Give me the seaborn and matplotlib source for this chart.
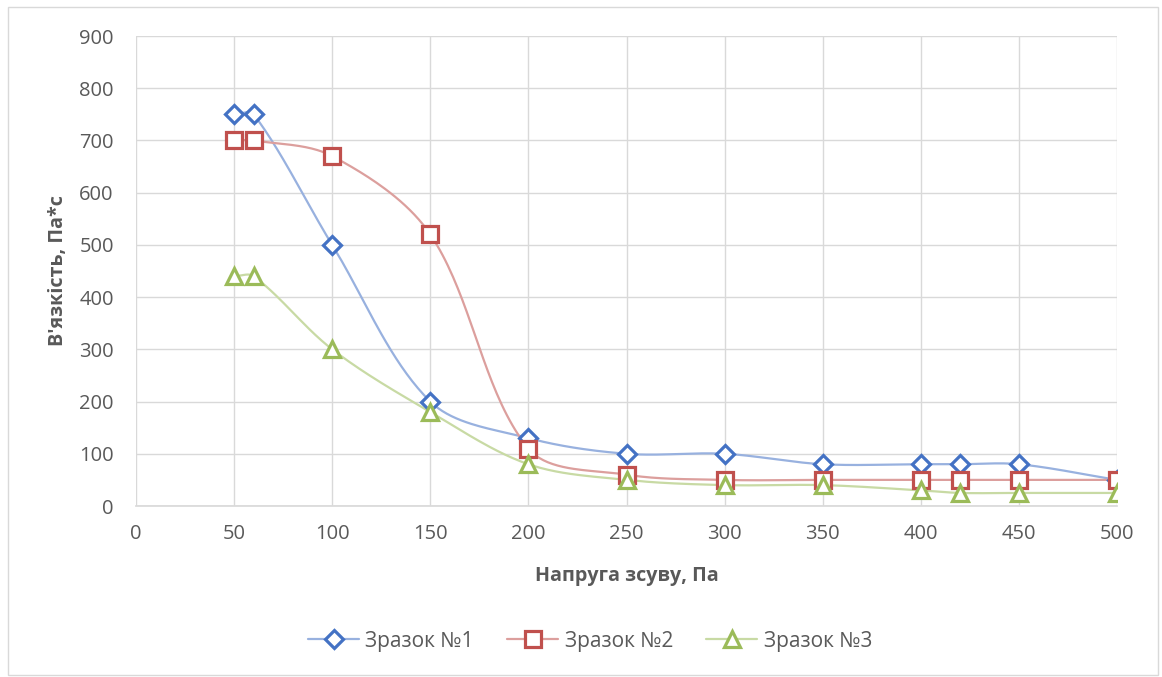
import numpy as np
import pandas as pd
import matplotlib
matplotlib.use("Agg")
import matplotlib.pyplot as plt
from matplotlib.lines import Line2D
from matplotlib.patches import Rectangle
import matplotlib.colors as mcolors
import seaborn as sns

# ---- data ----
stress = [50, 60, 100, 150, 200, 250, 300, 350, 400, 420, 450, 500]
sample1 = [750, 750, 500, 200, 130, 100, 100, 80, 80, 80, 80, 50]
sample2 = [700, 700, 670, 520, 110, 60, 50, 50, 50, 50, 50, 50]
sample3 = [440, 440, 300, 180, 80, 50, 40, 40, 30, 25, 25, 25]
names = ["Зразок №1", "Зразок №2", "Зразок №3"]
x_ticks = list(range(0, 501, 50))
y_ticks = list(range(0, 901, 100))
x_label = "Напруга зсуву, Па"
y_label = "В'язкість, Па*с"

colors = ["#4472C4", "#C0504D", "#9BBB59"]
markers = ["D", "s", "^"]
msizes = [9.5, 11, 12]


def lighten(c, f=0.45):
    r = np.array(mcolors.to_rgb(c))
    return tuple(r + (1 - r) * f)


def smooth(xs, ys, n=40, sx=981 / 500, sy=470 / 900):
    """Bezier smoothing (spreadsheet-style smoothed line), handles scaled by segment length."""
    P = np.column_stack([np.asarray(xs) * sx, np.asarray(ys) * sy]).astype(float)
    m = len(P)
    d = np.linalg.norm(np.diff(P, axis=0), axis=1)
    out = []
    t = np.linspace(0, 1, n)[:, None]
    for i in range(m - 1):
        p1, p2 = P[i], P[i + 1]
        p0 = P[i - 1] if i > 0 else P[i]
        p3 = P[i + 2] if i + 2 < m else P[i + 1]
        d01 = d[i - 1] if i > 0 else 0.0
        d12 = d[i]
        d23 = d[i + 1] if i + 2 < m else 0.0
        c1 = p1 + (p2 - p0) * (d12 / (d01 + d12)) / 3.0 if d01 + d12 > 0 else p1
        c2 = p2 - (p3 - p1) * (d12 / (d12 + d23)) / 3.0 if d12 + d23 > 0 else p2
        seg = ((1 - t) ** 3) * p1 + 3 * ((1 - t) ** 2) * t * c1 + 3 * (1 - t) * t ** 2 * c2 + t ** 3 * p2
        out.append(seg if i == 0 else seg[1:])
    out = np.vstack(out)
    return out[:, 0] / sx, out[:, 1] / sy


sns.set_theme(style="white")
plt.rcParams["font.family"] = ["Open Sans", "DejaVu Sans"]

fig = plt.figure(figsize=(11.62, 6.77), dpi=100)
ax = fig.add_axes([136 / 1162, 1 - 506 / 677, (1117 - 136) / 1162, (506 - 36) / 677])

fig.patches.append(Rectangle((8 / 1162, 2 / 677), 1150 / 1162, 668 / 677,
                             transform=fig.transFigure, fill=False,
                             edgecolor="#d9d9d9", linewidth=1.0))

series = [sample1, sample2, sample3]
for ys, c in zip(series, colors):
    sx, sy = smooth(stress, ys)
    sns.lineplot(x=sx, y=sy, ax=ax, color=lighten(c), linewidth=1.6,
                 sort=False, estimator=None, legend=False, zorder=2)
for ys, c, m, ms in zip(series, colors, markers, msizes):
    ax.plot(stress, ys, linestyle="none", marker=m, markersize=ms,
            markerfacecolor="white", markeredgecolor=c, markeredgewidth=2.3, zorder=3)

ax.set_xlim(0, 500)
ax.set_ylim(0, 900)
ax.set_xticks(x_ticks)
ax.set_yticks(y_ticks)
ax.grid(True, color="#d9d9d9", linewidth=1.0)
ax.set_axisbelow(True)
for s in ["top", "right", "left"]:
    ax.spines[s].set_visible(False)
ax.spines["bottom"].set_color("#d9d9d9")
ax.tick_params(axis="both", length=0, labelsize=14.5, colors="#595959")
ax.tick_params(axis="y", pad=16)
ax.tick_params(axis="x", pad=13)
ax.set_xlabel(x_label, fontsize=14.2, fontweight="bold", color="#595959", labelpad=16)
ax.set_ylabel(y_label, fontsize=14.2, fontweight="bold", color="#595959", labelpad=8)

handles = [Line2D([0], [0], color=lighten(c), linewidth=1.6, marker=m, markersize=ms,
                  markerfacecolor="white", markeredgecolor=c, markeredgewidth=2.3)
           for c, m, ms in zip(colors, markers, msizes)]
fig.legend(handles, names, loc="center", bbox_to_anchor=(590 / 1162, 1 - 641 / 677),
           ncol=3, frameon=False, fontsize=15, handlelength=2.45, handletextpad=0.3,
           columnspacing=1.6, labelcolor="#595959")

fig.savefig("out.png", dpi=100)
